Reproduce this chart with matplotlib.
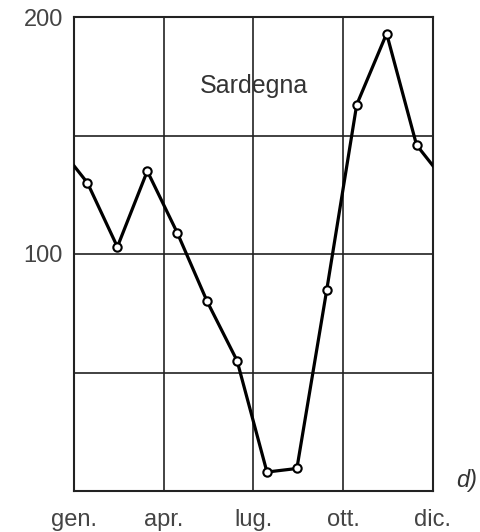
import matplotlib
matplotlib.use("Agg")
import matplotlib.pyplot as plt
import numpy as np

# monthly values (gen .. dic)
months = np.arange(12) + 0.45
values = [130, 103, 135, 109, 80, 55, 8, 9.5, 85, 163, 193, 146]
ytick_pos = [100, 200]
ytick_labels = ["100", "200"]
xtick_pos = [0, 3, 6, 9, 12]
xtick_labels = ["gen.", "apr.", "lug.", "ott.", "dic."]

plt.rcParams['font.family'] = ['Liberation Sans', 'DejaVu Sans']

fig = plt.figure(figsize=(4.81, 5.32), dpi=100)
ax = fig.add_axes([74/481, 41/532, 359/481, 474/532])
ax.set_xlim(0, 12)
ax.set_ylim(0, 200)

# grid
for y in [50, 100, 150]:
    ax.axhline(y, color="#333333", lw=1.3, zorder=1)
for x in [3, 6, 9]:
    ax.axvline(x, color="#222222", lw=1.2, zorder=1)
for s in ax.spines.values():
    s.set_color("#222222")
    s.set_linewidth(1.5)

# curve wraps around the year edges
xs = np.concatenate([[months[-1] - 12], months, [months[0] + 12]])
ys = np.concatenate([[values[-1]], values, [values[0]]])
ax.plot(xs, ys, color="black", lw=2.3, zorder=3)
ax.plot(months, values, ls="none", marker="o", ms=6, mfc="white",
        mec="black", mew=1.5, zorder=4)

ax.set_yticks(ytick_pos)
ax.set_yticklabels(ytick_labels)
ax.set_xticks(xtick_pos)
ax.set_xticklabels(xtick_labels)
ax.tick_params(length=0, labelsize=17, colors="#444444")
ax.tick_params(axis="y", pad=8)
ax.tick_params(axis="x", pad=13)

ax.text(6, 171, "Sardegna", ha="center", va="center", fontsize=18, color="#333333")
fig.text(456/481, 51/532, "d)", fontsize=17, style="italic", color="#333333",
         va="center", ha="left")

fig.savefig("out.png", dpi=100)
